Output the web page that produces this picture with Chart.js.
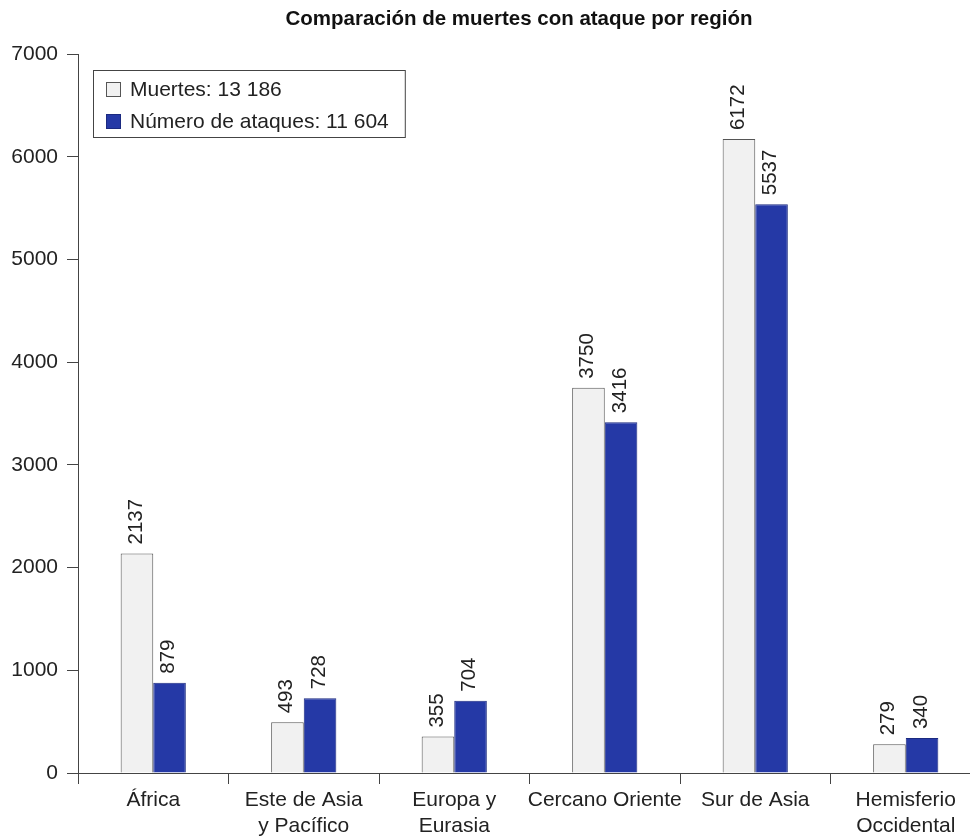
<!DOCTYPE html>
<html>
<head>
<meta charset="utf-8">
<script src="https://cdn.jsdelivr.net/npm/chart.js@4/dist/chart.umd.min.js"></script>
<style>
  html, body { margin: 0; padding: 0; background: #fff; overflow: hidden; }
  #wrap { position: relative; width: 982px; height: 836px; }
</style>
</head>
<body>
<div id="wrap"><canvas id="c"></canvas></div>
<script>
const TITLE = 'Comparación de muertes con ataque por región';
const categories = [
  'África',
  ['Este de Asia', 'y Pacífico'],
  ['Europa y', 'Eurasia'],
  'Cercano Oriente',
  'Sur de Asia',
  ['Hemisferio', 'Occidental']
];
const deaths = [2137, 493, 355, 3750, 6172, 279];
const attacks = [879, 728, 704, 3416, 5537, 340];
const seriesLabels = ['Muertes: 13 186', 'Número de ataques: 11 604'];
const yTicks = [0, 1000, 2000, 3000, 4000, 5000, 6000, 7000];

const FONT = '"Liberation Sans", Arial, Helvetica, sans-serif';
const TEXT = '#222';
const AXIS = '#444';

const titlePlugin = {
  id: 'customTitle',
  afterDraw(chart) {
    const ctx = chart.ctx;
    ctx.save();
    ctx.font = 'bold 20.5px ' + FONT;
    ctx.fillStyle = '#111';
    ctx.textAlign = 'center';
    ctx.textBaseline = 'middle';
    ctx.fillText(TITLE, 519, 19);
    ctx.restore();
  }
};

const valueLabels = {
  id: 'valueLabels',
  afterDatasetsDraw(chart) {
    const ctx = chart.ctx;
    ctx.save();
    ctx.font = '20.5px ' + FONT;
    ctx.fillStyle = TEXT;
    ctx.textAlign = 'left';
    ctx.textBaseline = 'middle';
    chart.data.datasets.forEach((ds, di) => {
      const meta = chart.getDatasetMeta(di);
      meta.data.forEach((bar, i) => {
        ctx.save();
        ctx.translate(bar.x - 1, bar.y - 9);
        ctx.rotate(-Math.PI / 2);
        ctx.fillText(String(ds.data[i]), 0, 0);
        ctx.restore();
      });
    });
    ctx.restore();
  }
};

const boxLegend = {
  id: 'boxLegend',
  afterDraw(chart) {
    const ctx = chart.ctx;
    const a = chart.chartArea;
    const left = a.left + 15, top = a.top + 16;
    ctx.save();
    ctx.font = '21px ' + FONT;
    let maxW = 0;
    chart.data.datasets.forEach(ds => { maxW = Math.max(maxW, ctx.measureText(ds.label).width); });
    const w = 37 + maxW + 16, h = 67;
    ctx.fillStyle = '#fff';
    ctx.fillRect(left, top, w, h);
    ctx.strokeStyle = AXIS;
    ctx.lineWidth = 1;
    ctx.strokeRect(left + 0.5, top + 0.5, w, h);
    chart.data.datasets.forEach((ds, i) => {
      const cy = top + 19 + i * 32;
      ctx.fillStyle = ds.backgroundColor;
      ctx.fillRect(left + 13, cy - 7, 15, 15);
      ctx.strokeStyle = ds.borderColor;
      ctx.strokeRect(left + 13.5, cy - 6.5, 14, 14);
      ctx.fillStyle = TEXT;
      ctx.textAlign = 'left';
      ctx.textBaseline = 'middle';
      ctx.fillText(ds.label, left + 37, cy + 1);
    });
    ctx.restore();
  }
};

new Chart(document.getElementById('c'), {
  type: 'bar',
  data: {
    labels: categories,
    datasets: [
      { label: seriesLabels[0], data: deaths, backgroundColor: '#f1f1f1', borderColor: '#555', borderWidth: 1 },
      { label: seriesLabels[1], data: attacks, backgroundColor: '#2539a6', borderColor: '#1b2a80', borderWidth: 1 }
    ]
  },
  options: {
    responsive: true,
    maintainAspectRatio: false,
    animation: false,
    layout: { padding: { top: 54, right: 1, left: 0, bottom: 0 } },
    datasets: { bar: { categoryPercentage: 0.433, barPercentage: 1.0 } },
    plugins: {
      legend: { display: false },
      title: { display: false },
      tooltip: { enabled: false }
    },
    scales: {
      x: {
        grid: { offset: true, drawOnChartArea: false, drawTicks: true, tickLength: 11, color: AXIS },
        border: { display: true, color: AXIS, width: 1 },
        ticks: { font: { family: FONT, size: 21, lineHeight: 1.25 }, color: TEXT, padding: 3, maxRotation: 0, autoSkip: false },
        afterFit(s) { s.height = 63; }
      },
      y: {
        min: 0, max: 7000,
        afterBuildTicks(s) { s.ticks = yTicks.map(v => ({ value: v })); },
        grid: { drawOnChartArea: false, drawTicks: true, tickLength: 11, color: AXIS },
        border: { display: true, color: AXIS, width: 1 },
        ticks: { font: { family: FONT, size: 21 }, color: TEXT, padding: 9, callback: v => String(v) },
        afterFit(s) { s.width = 78; }
      }
    }
  },
  plugins: [valueLabels, boxLegend, titlePlugin]
});
</script>
</body>
</html>
